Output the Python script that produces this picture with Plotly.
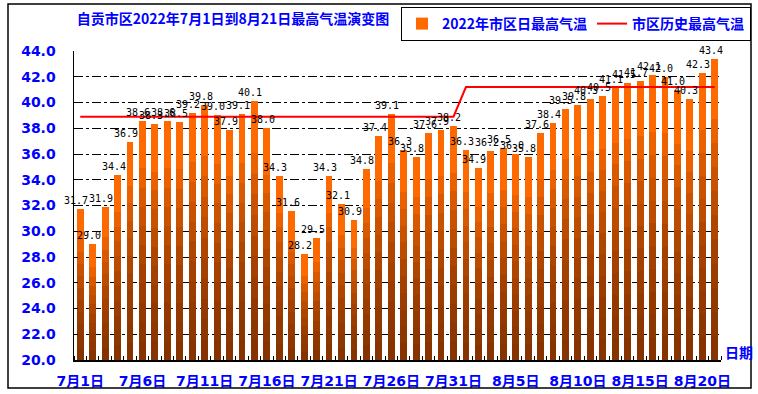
import plotly.graph_objects as go

# ---------------- data ----------------
dates = (["7月%d日" % d for d in range(1, 32)] + ["8月%d日" % d for d in range(1, 22)])
daily_max = [31.7, 29.0, 31.9, 34.4, 36.9, 38.6, 38.3, 38.6, 38.5, 39.2,
             39.8, 39.0, 37.9, 39.1, 40.1, 38.0, 34.3, 31.6, 28.2, 29.5,
             34.3, 32.1, 30.9, 34.8, 37.4, 39.1, 36.3, 35.8, 37.6, 37.9,
             38.2,
             36.3, 34.9, 36.2, 36.5, 36.0, 35.8, 37.6, 38.4, 39.5, 39.8,
             40.3, 40.5, 41.1, 41.5, 41.7, 42.1, 42.0, 41.0, 40.3, 42.3,
             43.4]
hist_max = [38.9, 38.9, 38.9, 38.9, 38.9, 38.9, 38.9, 38.9, 38.9, 38.9,
            38.9, 38.9, 38.9, 38.9, 38.9, 38.9, 38.9, 38.9, 38.9, 38.9,
            38.9, 38.9, 38.9, 38.9, 38.9, 38.9, 38.9, 38.9, 38.9, 38.9,
            38.9,
            41.2, 41.2, 41.2, 41.2, 41.2, 41.2, 41.2, 41.2, 41.2, 41.2,
            41.2, 41.2, 41.2, 41.2, 41.2, 41.2, 41.2, 41.2, 41.2, 41.2,
            41.2]
tick_idx = [0, 5, 10, 15, 20, 25, 30, 35, 40, 45, 50]
y_ticks = [20, 22, 24, 26, 28, 30, 32, 34, 36, 38, 40, 42, 44]

series_bar = "2022年市区日最高气温"
series_line = "市区历史最高气温"
title_text = "自贡市区2022年7月1日到8月21日最高气温演变图"

# ---------------- style ----------------
W, H = 758, 394
L, R, T, B = 74, 37, 51, 34
BLUE = "#0000FF"
FONT = "DejaVu Sans, Noto Sans CJK SC"
CJK = "Noto Sans CJK SC"
YMIN, YMAX = 20, 44
pw, ph = W - L - R, H - T - B

x = list(range(len(daily_max)))

fig = go.Figure()

# main bars
fig.add_trace(go.Bar(x=x, y=daily_max, width=0.55, name=series_bar,
                     marker=dict(color="#FF6A00", line=dict(width=0)),
                     hoverinfo="skip"))

# shading overlays to imitate a vertical gradient (darker towards the base)
fractions = [0.8, 0.72, 0.64, 0.56, 0.48, 0.4, 0.32, 0.24, 0.16, 0.08]
for f in fractions:
    fig.add_trace(go.Bar(x=x, y=[YMIN + (v - YMIN) * f for v in daily_max],
                         width=0.55, showlegend=False, hoverinfo="skip",
                         marker=dict(color="rgba(90,30,0,0.12)", line=dict(width=0))))

# historic max line
fig.add_trace(go.Scatter(x=x, y=hist_max, mode="lines", name=series_line,
                         line=dict(color="#FF0000", width=2), hoverinfo="skip"))

# value labels
for i, v in enumerate(daily_max):
    fig.add_annotation(x=i, y=v, text="%.1f" % v, showarrow=False,
                       xanchor="center", yanchor="bottom", xshift=-4, yshift=1,
                       font=dict(family="DejaVu Sans Mono", size=10, color="black"))

fig.update_layout(
    width=W, height=H,
    margin=dict(l=L, r=R, t=T, b=B, autoexpand=False),
    paper_bgcolor="white", plot_bgcolor="white",
    barmode="overlay", bargap=0,
    showlegend=True, hovermode=False,
    title=dict(text=title_text, x=233 / W, xanchor="center", xref="container",
               y=1 - 19 / H, yanchor="middle", yref="container",
               font=dict(family=CJK, size=14, color=BLUE, weight="bold")),
    legend=dict(orientation="h", x=(751 - L) / pw, xanchor="right",
                y=(H - B - 7) / ph, yanchor="top",
                bordercolor="black", borderwidth=1, bgcolor="white",
                font=dict(family=CJK, size=14, color=BLUE, weight="bold"),
                itemwidth=30, traceorder="normal"),
    xaxis=dict(range=[-0.5, len(x) - 0.5], tickmode="array", tickvals=tick_idx,
               ticktext=[dates[i] for i in tick_idx], ticks="", showgrid=False,
               showline=True, linecolor="black", linewidth=1.5,
               tickfont=dict(family=FONT, size=14, color=BLUE, weight="bold"),
               ticklabelstandoff=8, zeroline=False,
               minor=dict(ticks="inside", ticklen=4, tickcolor="black",
                          tick0=0.5, dtick=1, showgrid=False)),
    yaxis=dict(range=[YMIN, YMAX], tickmode="array", tickvals=y_ticks,
               ticktext=["%.1f" % t for t in y_ticks], ticks="inside", ticklen=4,
               tickcolor="black", showline=True, linecolor="black", linewidth=1.5,
               showgrid=True, gridcolor="black", gridwidth=1,
               griddash="dashdot", zeroline=False,
               tickfont=dict(family=FONT, size=14, color=BLUE, weight="bold"),
               ticklabelstandoff=14),
)

# "日期" axis name
fig.add_annotation(xref="paper", yref="paper", x=(723 - L) / pw, y=8 / ph,
                   xanchor="left", yanchor="middle", text="日期", showarrow=False,
                   font=dict(family=CJK, size=14, color=BLUE, weight="bold"))

# outer frame
fig.add_shape(type="rect", xref="paper", yref="paper",
              x0=(8 - L) / pw, x1=(751 - L) / pw,
              y0=(H - B - 388) / ph, y1=(H - B - 4) / ph,
              line=dict(color="black", width=1.5), layer="above")

fig.write_html("out.html", config={"displayModeBar": False, "staticPlot": True},
               post_script="document.body.style.margin='0px';")
